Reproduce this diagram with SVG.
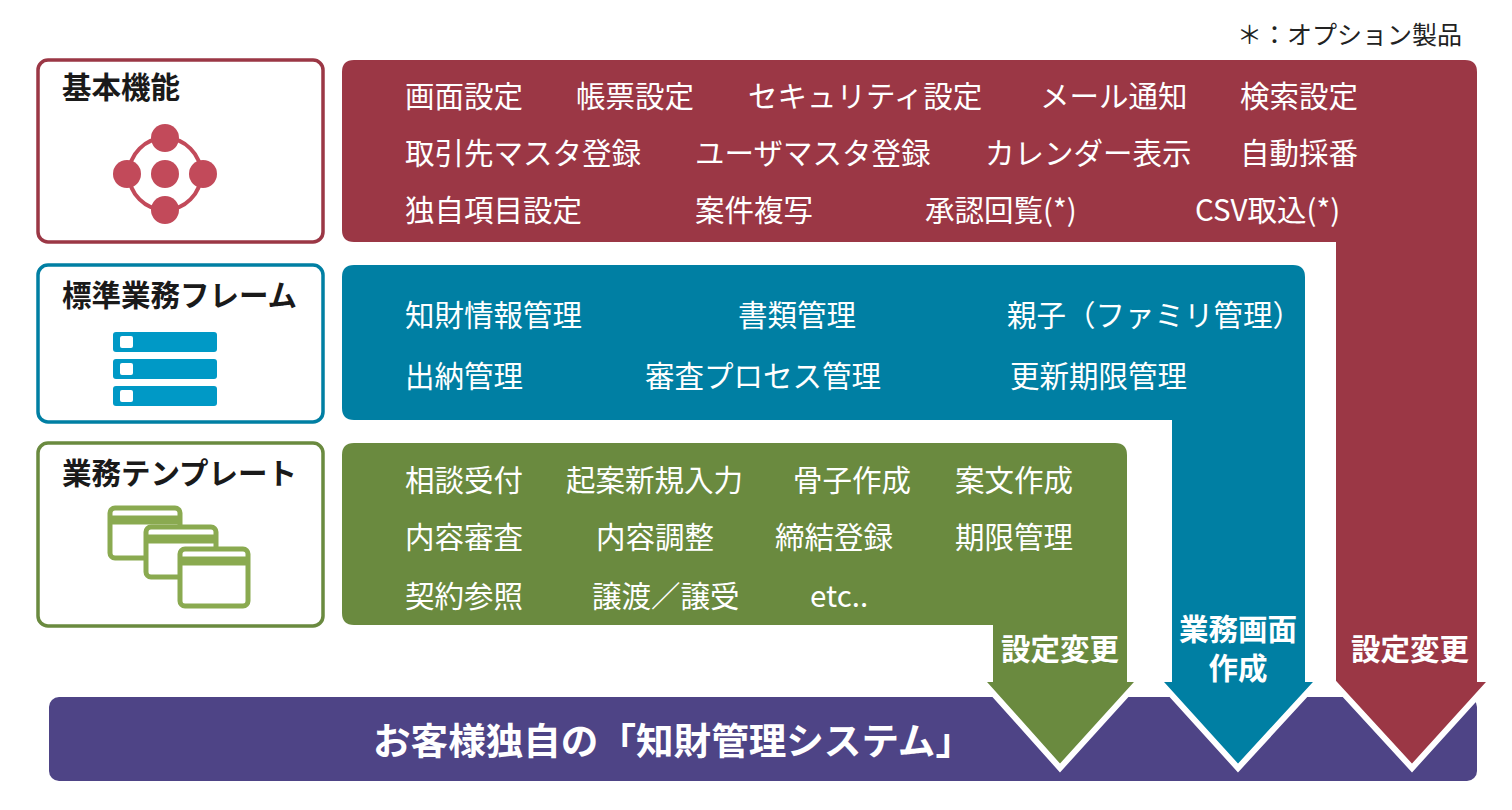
<svg xmlns="http://www.w3.org/2000/svg" width="1512" height="810" viewBox="0 0 1512 810">
<style>
text{font-family:"Noto Sans CJK JP","Noto Sans",sans-serif}
.t{fill:#fff;font-size:29.5px}
.h{fill:#1a1a1a;font-size:29.5px;font-weight:bold}
.w{fill:#fff;font-weight:bold;font-size:29.5px;text-anchor:middle}
.box{fill:#fff;stroke-width:3.5}
</style>
<rect width="1512" height="810" fill="#fff"/>
<text x="1462" y="44" font-size="25" fill="#222" text-anchor="end">＊：オプション製品</text>
<g id="bar"><rect x="49" y="697" width="1428" height="84" rx="10" fill="#4e4486"/>
<text x="373" y="755" fill="#fff" font-weight="bold" font-size="37" textLength="600" lengthAdjust="spacingAndGlyphs">お客様独自の「知財管理システム」</text></g>
<g id="connectors" stroke="#fff" stroke-width="6" stroke-linejoin="miter">
<path d="M342,72 Q342,60 354,60 H1465 Q1477,60 1477,72 V682 H1490 L1412,768 L1333,682 H1336 V242 H354 Q342,242 342,230 Z" fill="#9b3745" stroke="none"/>
<path d="M1333,682 L1412,768 L1490,682" fill="none"/>
<path d="M354,265 H1293 Q1305,265 1305,277 V682 H1317 L1238,768 L1160,682 H1172 V420 H354 Q342,420 342,408 V277 Q342,265 354,265 Z" fill="#007fa3" stroke="none"/>
<path d="M1160,682 L1238,768 L1317,682" fill="none"/>
<path d="M354,443 H1115 Q1127,443 1127,455 V682 H1138 L1060,768 L983,682 H993 V625 H354 Q342,625 342,613 V455 Q342,443 354,443 Z" fill="#6a8a3f" stroke="none"/>
<path d="M983,682 L1060,768 L1138,682" fill="none"/>
</g>
<g id="arrowlabels">
<text x="1410" y="660" class="w">設定変更</text>
<text x="1238" y="640" class="w" font-size="28">業務画面</text>
<text x="1238" y="679" class="w" font-size="28">作成</text>
<text x="1060" y="660" class="w">設定変更</text>
</g>
<g id="basic">
<rect x="38" y="60" width="285" height="182" rx="10" class="box" stroke="#9b3745"/>
<text x="62" y="98" class="h">基本機能</text>
<g fill="#c24a5a"><circle cx="165" cy="174" r="36" fill="none" stroke="#c24a5a" stroke-width="4"/>
<circle cx="165" cy="138" r="14"/><circle cx="165" cy="210" r="14"/><circle cx="127" cy="174" r="14"/><circle cx="203" cy="174" r="14"/><circle cx="165" cy="174" r="14"/></g>
<text x="405" y="107" class="t">画面設定</text><text x="576" y="107" class="t">帳票設定</text><text x="748" y="107" class="t">セキュリティ設定</text><text x="1040" y="107" class="t">メール通知</text><text x="1240" y="107" class="t">検索設定</text>
<text x="405" y="164" class="t">取引先マスタ登録</text><text x="695" y="164" class="t">ユーザマスタ登録</text><text x="985" y="164" class="t">カレンダー表示</text><text x="1240" y="164" class="t">自動採番</text>
<text x="405" y="221" class="t">独自項目設定</text><text x="695" y="221" class="t">案件複写</text><text x="925" y="221" class="t">承認回覧(*)</text><text x="1195" y="221" class="t">CSV取込(*)</text>
</g>
<g id="frame">
<rect x="38" y="265" width="285" height="157" rx="10" class="box" stroke="#007fa3"/>
<text x="62" y="306" class="h">標準業務フレーム</text>
<g fill="#0099c6"><rect x="113" y="332" width="104" height="20" rx="3"/><rect x="113" y="359" width="104" height="20" rx="3"/><rect x="113" y="386" width="104" height="20" rx="3"/></g>
<g fill="#fff"><rect x="120" y="336" width="13" height="12" rx="2"/><rect x="120" y="363" width="13" height="12" rx="2"/><rect x="120" y="390" width="13" height="12" rx="2"/></g>
<text x="405" y="326" class="t">知財情報管理</text><text x="738" y="326" class="t">書類管理</text><text x="1007" y="326" class="t">親子（ファミリ管理）</text>
<text x="405" y="387" class="t">出納管理</text><text x="645" y="387" class="t">審査プロセス管理</text><text x="1010" y="387" class="t">更新期限管理</text>
</g>
<g id="template">
<rect x="38" y="443" width="285" height="183" rx="10" class="box" stroke="#6a8a3f"/>
<text x="62" y="484" class="h">業務テンプレート</text>
<g fill="#fff" stroke="#8aaa50" stroke-width="5">
<rect x="110" y="508" width="70" height="50" rx="5"/><path d="M110,520 H180" stroke-width="9"/>
<rect x="146" y="527" width="70" height="50" rx="5"/><path d="M146,539 H216" stroke-width="9"/>
<rect x="180" y="549" width="68" height="57" rx="5"/><path d="M180,561 H248" stroke-width="9"/></g>
<text x="405" y="491" class="t">相談受付</text><text x="566" y="491" class="t">起案新規入力</text><text x="793" y="491" class="t">骨子作成</text><text x="955" y="491" class="t">案文作成</text>
<text x="405" y="548" class="t">内容審査</text><text x="596" y="548" class="t">内容調整</text><text x="775" y="548" class="t">締結登録</text><text x="955" y="548" class="t">期限管理</text>
<text x="405" y="607" class="t">契約参照</text><text x="592" y="607" class="t">譲渡／譲受</text><text x="810" y="607" class="t">etc..</text>
</g>
</svg>
